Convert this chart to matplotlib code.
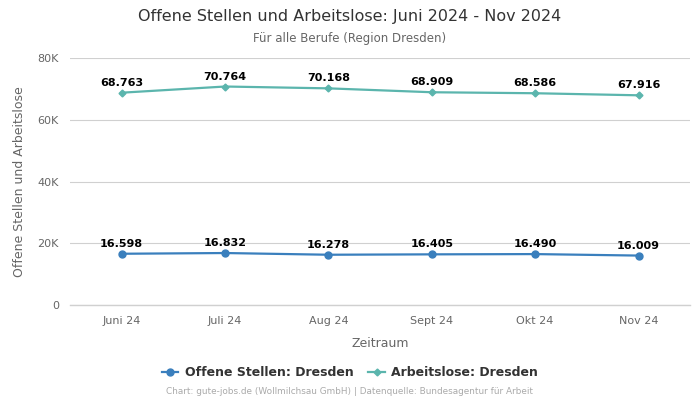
import matplotlib
matplotlib.use("Agg")
import matplotlib.pyplot as plt
from matplotlib.lines import Line2D

months = ["Juni 24", "Juli 24", "Aug 24", "Sept 24", "Okt 24", "Nov 24"]
offene_stellen = [16598, 16832, 16278, 16405, 16490, 16009]
arbeitslose = [68763, 70764, 70168, 68909, 68586, 67916]
yticks = [0, 20000, 40000, 60000, 80000]
ytick_labels = ["0", "20K", "40K", "60K", "80K"]

blue = "#3a7fbd"
teal = "#5bb5ad"


def fmt(v):
    return "{:,}".format(v).replace(",", ".")


fig = plt.figure(figsize=(7, 4), dpi=100)
ax = fig.add_axes([0.1, 0.2375, 0.886, 0.6175])

x = list(range(len(months)))
ax.plot(x, offene_stellen, color=blue, lw=1.6, marker="o", ms=5, zorder=3)
ax.plot(x, arbeitslose, color=teal, lw=1.6, marker="D", ms=3.5, zorder=3)

for xi, v in zip(x, offene_stellen):
    ax.annotate(fmt(v), (xi, v), xytext=(0, 3.5), textcoords="offset points",
                ha="center", va="bottom", fontsize=8, fontweight="bold")
for xi, v in zip(x, arbeitslose):
    ax.annotate(fmt(v), (xi, v), xytext=(0, 3.5), textcoords="offset points",
                ha="center", va="bottom", fontsize=8, fontweight="bold")

ax.set_xlim(-0.5, len(months) - 0.5)
ax.set_ylim(0, 80000)
ax.set_xticks(x)
ax.set_xticklabels(months)
ax.set_yticks(yticks)
ax.set_yticklabels(ytick_labels)
ax.tick_params(length=0, labelsize=8, colors="#666666", pad=8)
ax.grid(axis="y", color="#d0d0d0", lw=0.8)
ax.axhline(0, color="#d0d0d0", lw=1.0, clip_on=False, zorder=1)
ax.set_axisbelow(True)
for s in ax.spines.values():
    s.set_visible(False)

ax.set_xlabel("Zeitraum", fontsize=9, color="#666666", labelpad=8)
ax.set_ylabel("Offene Stellen und Arbeitslose", fontsize=9, color="#666666", labelpad=8)

fig.text(0.5, 0.958, "Offene Stellen und Arbeitslose: Juni 2024 - Nov 2024",
         ha="center", va="center", fontsize=11.5, color="#333333")
fig.text(0.5, 0.903, "Für alle Berufe (Region Dresden)",
         ha="center", va="center", fontsize=8.5, color="#666666")

handles = [
    Line2D([], [], color=blue, lw=1.6, marker="o", ms=5),
    Line2D([], [], color=teal, lw=1.6, marker="D", ms=3.5),
]
fig.legend(handles, ["Offene Stellen: Dresden", "Arbeitslose: Dresden"],
           loc="center", bbox_to_anchor=(0.5, 0.068), ncol=2, frameon=False,
           prop={"size": 9, "weight": "bold"}, labelcolor="#333333",
           handlelength=1.3, handletextpad=0.5, columnspacing=1.2)

fig.text(0.5, 0.02, "Chart: gute-jobs.de (Wollmilchsau GmbH) | Datenquelle: Bundesagentur für Arbeit",
         ha="center", va="center", fontsize=6.4, color="#aaaaaa")

fig.savefig("out.png", dpi=100)
